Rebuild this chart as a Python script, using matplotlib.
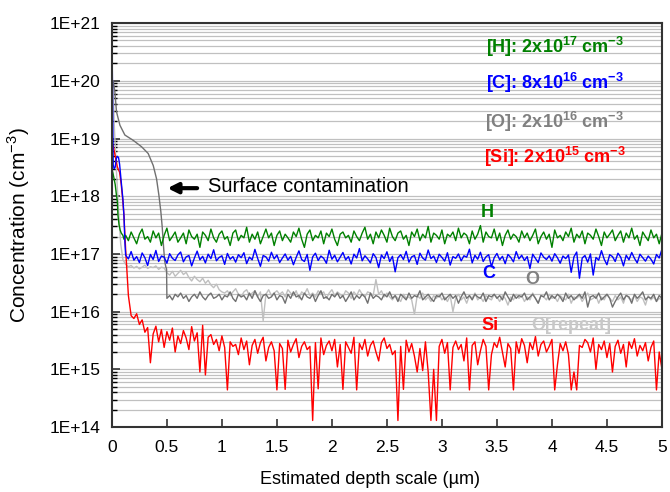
import numpy as np
import matplotlib
matplotlib.use("Agg")
import matplotlib.pyplot as plt
from matplotlib.ticker import LogLocator, FuncFormatter, MultipleLocator, NullFormatter

plt.rcParams['font.family'] = ['Liberation Sans', 'DejaVu Sans']
plt.rcParams['mathtext.fontset'] = 'custom'
plt.rcParams['mathtext.rm'] = 'Liberation Sans'
plt.rcParams['mathtext.bf'] = 'Liberation Sans:bold'

# depth grid of the bulk part (um)
depth = np.arange(0.125, 5.0001, 0.025)

# near-surface points (um, cm-3)
H_surf_x = [0, 0.01, 0.02, 0.03, 0.04, 0.05, 0.055, 0.065, 0.075, 0.085, 0.1, 0.11]
H_surf = [3e18, 2.5e18, 2e18, 1.6e18, 1.1e18, 8e17, 4.7e17, 3.2e17, 2.6e17, 2.3e17, 2.1e17, 1.8e17]

C_surf_x = [0, 0.004, 0.008, 0.012, 0.02, 0.03, 0.04, 0.05, 0.06, 0.07, 0.08, 0.09, 0.1, 0.11, 0.118]
C_surf = [2e20, 1.5e20, 2e19, 3.5e18, 3e18, 3.2e18, 4.5e18, 4.9e18, 4.7e18, 3.6e18, 2.2e18, 1.4e18,
          9e17, 4.5e17, 1.6e17]

Si_surf_x = [0, 0.005, 0.015, 0.03, 0.05, 0.07, 0.085, 0.1, 0.11, 0.118]
Si_surf = [3e18, 8e18, 7e18, 5e18, 3.2e18, 2.6e18, 1.6e18, 8e17, 4.5e17, 2.3e17]

O_surf_x = [0, 0.012, 0.027, 0.042, 0.073, 0.118, 0.194, 0.27, 0.33, 0.376, 0.406, 0.427, 0.445,
            0.457, 0.47, 0.48, 0.49, 0.497]
O_surf = [6e19, 1e20, 6.5e19, 2.9e19, 1.7e19, 1.15e19, 9.3e18, 7.2e18, 5.5e18, 3.4e18, 2e18, 1.05e18,
          5.4e17, 3e17, 1.3e17, 7.5e16, 6e16, 5.5e16]

OR_surf_x = [0, 0.01, 0.02, 0.04, 0.06, 0.08, 0.1]
OR_surf = [5e19, 1e20, 2e19, 3e18, 6e17, 1.5e17, 8e16]

# bulk values: H in 1e16, C in 1e15, O in 1e15 (from 0.5 um), O repeat in 1e15, Si in 1e14
H_bulk = [21, 17, 24, 19, 15, 22, 27, 18, 20, 16, 25, 19, 23, 14, 21, 28, 17, 20, 24, 16,
          19, 23, 15, 26, 20, 18, 22, 13, 24, 21, 17, 27, 19, 16, 22, 25, 18, 20, 14, 23,
          26, 17, 21, 19, 29, 16, 22, 18, 24, 15, 20, 27, 19, 23, 14, 21, 25, 17, 22, 19,
          16, 24, 20, 28, 18, 13, 22, 26, 17, 21, 19, 25, 15, 23, 20, 27, 18, 14, 22, 24,
          19, 21, 16, 25, 20, 17, 23, 29, 18, 22, 15, 24, 19, 26, 21, 16, 28, 20, 17, 23,
          25, 18, 21, 14, 24, 20, 27, 17, 22, 19, 30, 16, 23, 21, 18, 26, 15, 22, 20, 24,
          17, 28, 19, 23, 21, 15, 25, 18, 22, 31, 16, 24, 20, 19, 27, 17, 23, 14, 21, 26,
          18, 22, 20, 16, 25, 19, 23, 17, 21, 27, 15, 20, 24, 18, 22, 13, 26, 19, 21, 17,
          24, 20, 28, 16, 22, 19, 25, 15, 23, 21, 18, 27, 20, 14, 24, 19, 22, 26, 17, 21,
          25, 16, 23, 19, 28, 18, 21, 14, 24, 20, 17, 26, 19, 22, 15, 23]

C_bulk = [95, 82, 110, 78, 90, 71, 104, 86, 63, 98, 80, 115, 74, 92, 88, 69, 101, 84, 77, 96,
          108, 73, 89, 94, 62, 85, 112, 79, 91, 70, 99, 83, 118, 76, 87, 93, 66, 102, 81, 90,
          72, 97, 86, 105, 68, 88, 79, 120, 84, 61, 94, 89, 75, 107, 82, 96, 71, 85, 100, 78,
          91, 65, 87, 113, 80, 74, 98, 52, 89, 103, 77, 92, 84, 69, 116, 81, 95, 73, 88, 106,
          79, 90, 67, 99, 85, 124, 76, 93, 82, 70, 101, 87, 58, 96, 83, 109, 74, 91, 49, 86,
          97, 80, 111, 72, 89, 94, 66, 103, 85, 78, 117, 83, 92, 71, 99, 87, 75, 105, 64, 90,
          84, 100, 76, 93, 88, 121, 70, 95, 81, 107, 74, 89, 97, 60, 86, 102, 79, 91, 68, 98,
          87, 73, 110, 82, 95, 77, 90, 56, 99, 84, 71, 104, 88, 80, 93, 75, 101, 86, 69, 92,
          83, 96, 48, 89, 108, 38, 85, 94, 72, 100, 43, 87, 78, 114, 81, 65, 97, 90, 74, 103,
          88, 62, 95, 79, 106, 84, 70, 99, 86, 75, 92, 81, 67, 98, 85, 121]

O_bulk = [17, 19, 16, 20, 18, 21, 17, 19, 15, 18, 20, 17, 22, 18, 16, 19, 21, 17, 18, 20,
          16, 19, 18, 22, 17, 15, 20, 18, 19, 16, 21, 17, 23, 18, 15, 19, 20, 17, 18, 21,
          16, 19, 18, 14, 20, 17, 22, 18, 19, 16, 21, 18, 17, 20, 15, 19, 23, 17, 18, 16,
          20, 18, 21, 17, 19, 15, 18, 22, 16, 19, 17, 20, 18, 14, 21, 17, 19, 18, 16, 20,
          18, 22, 17, 19, 15, 20, 18, 16, 21, 17, 19, 18, 23, 16, 18, 20, 17, 15, 19, 18,
          21, 16, 18, 20, 17, 19, 14, 18, 22, 17, 19, 16, 20, 18, 17, 21, 15, 19, 18, 20,
          17, 19, 16, 22, 18, 15, 20, 17, 19, 18, 21, 16, 18, 20, 17, 14, 19, 18, 22, 16,
          19, 17, 20, 18, 15, 21, 17, 19, 16, 18, 20, 17, 22, 12, 18, 19, 17, 21, 16, 18,
          20, 17, 12, 15, 18, 21, 16, 19, 18, 14, 20, 17, 19, 22, 16, 18, 17, 20, 15, 19,
          17]

OR_bulk = [66, 60, 63, 57, 61, 55, 59, 64, 56, 60, 58, 62, 54, 59, 57,
           47, 43, 50, 41, 46, 52, 44, 48,
           39, 34, 41, 36, 33, 38, 31, 35,
           29, 26, 30, 24, 22,
           21, 23, 19, 22, 25, 20, 18, 22, 24, 19, 21, 23, 18, 22, 7, 20, 24, 19, 21, 23,
           20, 22, 18, 24, 21, 19, 23, 17, 22, 20, 25, 19, 21, 18, 23, 20, 22, 17, 21, 24,
           19, 22, 20, 18, 23, 21, 17, 22, 19, 24, 20, 18, 22, 21, 19, 36, 20, 23, 18, 21,
           18, 16, 19, 17, 15, 20, 17, 18, 16, 9, 19, 17, 21, 16, 18, 15, 19, 17, 20, 16,
           18, 15, 19, 10, 17, 20, 16, 18, 14, 19, 17, 21, 16, 18, 15, 19, 17, 16, 20, 18,
           15, 19, 17, 13, 18, 16, 20, 17, 19, 15, 18, 16, 21, 17, 14, 19, 18, 16, 20, 17,
           18, 15, 19, 17, 16, 20, 14, 18, 17, 19, 15, 18, 21, 16, 17, 19, 14, 18, 16, 20,
           17, 15, 19, 16, 18, 14, 20, 17, 16, 19, 15, 18, 17, 13, 19, 16, 18, 15, 17, 16]

Si_bulk = [1200, 190, 85, 76, 92, 60, 72, 44, 53, 13, 41, 56, 30, 49, 24, 45, 32, 52, 20, 38,
           28, 47, 35, 22, 55, 31, 43, 9, 58, 8, 36, 40, 27, 33, 21, 38, 24, 4.4, 30, 25,
           27, 18, 35, 22, 31, 12, 26, 33, 19, 29, 36, 14, 24, 30, 21, 4.4, 28, 23, 4.5, 32,
           20, 27, 34, 16, 25, 30, 22, 25, 1.3, 29, 4.6, 35, 18, 26, 31, 21, 33, 11, 27, 4.5,
           30, 24, 19, 36, 4.4, 28, 22, 33, 17, 26, 31, 20, 14, 29, 35, 23, 27, 18, 21, 1.3,
           25, 4.5, 32, 20, 28, 17, 9, 23, 9.5, 30, 9, 1.3, 10, 1.3, 25, 33, 19, 29, 4.4, 24,
           31, 22, 27, 14, 35, 4.4, 26, 30, 12, 21, 33, 25, 4.4, 18, 29, 24, 36, 20, 11, 28,
           23, 4.4, 30, 19, 34, 26, 13, 29, 22, 37, 17, 27, 31, 20, 25, 33, 4.4, 12, 28, 21,
           30, 18, 4.4, 9, 4.4, 26, 24, 33, 29, 20, 35, 10, 27, 22, 31, 16, 28, 9, 25, 32,
           19, 27, 11, 30, 23, 34, 17, 26, 21, 29, 14, 24, 31, 4.4, 20, 10]

fig = plt.figure(figsize=(6.7, 4.92), dpi=100)
ax = fig.add_axes([0.167, 0.132, 0.821, 0.821])

ax.plot(np.r_[OR_surf_x, depth], np.r_[OR_surf, np.array(OR_bulk) * 1e15], color='#bfbfbf', lw=1)
ax.plot(np.r_[O_surf_x, depth[15:]], np.r_[O_surf, np.array(O_bulk) * 1e15], color='#707070', lw=1)
ax.plot(np.r_[Si_surf_x, depth], np.r_[Si_surf, np.array(Si_bulk) * 1e14], color='#ff0000', lw=1)
ax.plot(np.r_[H_surf_x, depth], np.r_[H_surf, np.array(H_bulk) * 1e16], color='#008000', lw=1)
ax.plot(np.r_[C_surf_x, depth], np.r_[C_surf, np.array(C_bulk) * 1e15], color='#0000ff', lw=1)

ax.set_yscale('log')
ax.set_xlim(0, 5)
ax.set_ylim(1e14, 1e21)
ax.xaxis.set_major_locator(MultipleLocator(0.5))
ax.xaxis.set_major_formatter(FuncFormatter(lambda v, p: f"{v:g}"))
ax.yaxis.set_major_locator(LogLocator(base=10, numticks=10))
ax.yaxis.set_minor_locator(LogLocator(base=10, subs=np.arange(2, 10), numticks=20))
ax.yaxis.set_major_formatter(FuncFormatter(lambda v, p: f"1E+{int(round(np.log10(v)))}"))
ax.yaxis.set_minor_formatter(NullFormatter())
ax.yaxis.grid(True, which='both', color='#c0c0c0', lw=0.9)
ax.set_axisbelow(True)

ax.tick_params(axis='both', which='major', direction='in', length=6, width=1.2, labelsize=12.5, color='#333333')
ax.tick_params(axis='y', which='minor', direction='in', length=3.5, width=1)
ax.tick_params(axis='x', pad=9)
ax.tick_params(axis='y', pad=8)
for s in ax.spines.values():
    s.set_linewidth(1.5)
    s.set_color('#333333')

ax.set_xlabel('Estimated depth scale (µm)', fontsize=13)
ax.xaxis.set_label_coords(0.47, -0.108)
ax.set_ylabel('Concentration (cm$^{-3}$)', fontsize=15)
ax.yaxis.set_label_coords(-0.145, 0.5)

# concentration labels
lab = dict(transform=ax.transAxes, ha='center', va='center', fontsize=13, fontweight='bold')
ax.text(0.805, 0.94, r'[H]: 2x10$^{\mathbf{17}}$ cm$^{\mathbf{-3}}$', color='#008000', **lab)
ax.text(0.805, 0.851, r'[C]: 8x10$^{\mathbf{16}}$ cm$^{\mathbf{-3}}$', color='#0000ff', **lab)
ax.text(0.805, 0.755, r'[O]: 2x10$^{\mathbf{16}}$ cm$^{\mathbf{-3}}$', color='#808080', **lab)
ax.text(0.805, 0.668, r'[Si]: 2x10$^{\mathbf{15}}$ cm$^{\mathbf{-3}}$', color='#ff0000', **lab)

ax.text(0.682, 0.53, 'H', color='#008000', **lab)
ax.text(0.685, 0.381, 'C', color='#0000ff', **lab)
ax.text(0.765, 0.366, 'O', color='#808080', **lab)
ax.text(0.687, 0.252, 'Si', color='#ff0000', **lab)
ax.text(0.836, 0.252, 'O[repeat]', color='#c8c8c8', **lab)

ax.annotate('', xy=(0.48, 1.38e18), xytext=(0.8, 1.38e18),
            arrowprops=dict(arrowstyle='-|>,head_length=0.6,head_width=0.3', lw=3, color='black'))
ax.text(0.873, 1.5e18, 'Surface contamination', fontsize=14.5, va='center', ha='left')

fig.savefig('out.png', dpi=100)
